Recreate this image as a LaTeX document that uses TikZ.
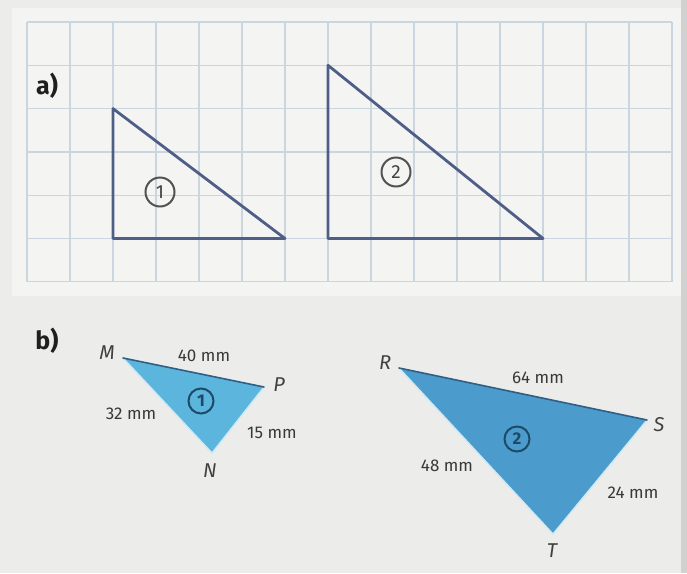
\documentclass[tikz,border=0pt]{standalone}
\usepackage{fontspec}
\setmainfont{Fira Sans}
\usetikzlibrary{positioning}
\definecolor{paper}{HTML}{ECECEA}
\definecolor{gridpaper}{HTML}{F4F4F3}
\definecolor{gridline}{HTML}{C9D6DF}
\definecolor{triline}{HTML}{4E5E86}
\definecolor{tribluea}{HTML}{5BB5DC}
\definecolor{triblueb}{HTML}{4B9CCC}
\definecolor{edgedark}{HTML}{2F5F86}
\definecolor{ringb}{HTML}{1E4A6A}

\begin{document}
\begin{tikzpicture}[
    x=1pt, y=-1pt,
    every node/.style={font=\fontsize{17}{19}\selectfont, text=black!78},
    gridl/.style={gridline, line width=1.3pt},
    side/.style={draw=triline, line width=2.8pt, line join=round},
    halo/.style={draw=white!70!tribluea, line width=1.4pt, line join=round},
    topedge/.style={edgedark, line width=1.6pt, line cap=round},
    part/.style={font=\fontsize{25}{27}\selectfont\bfseries, text=black!88},
    vname/.style={font=\fontsize{20}{22}\selectfont\itshape, text=black!75},
    ringa/.style={circle, draw=black!68, line width=2pt, minimum size=29pt,
      inner sep=0pt, font=\fontsize{19}{20}\selectfont, text=black!75},
    ringbb/.style={circle, draw=ringb, line width=2pt, minimum size=25pt,
      inner sep=0pt, font=\fontsize{17}{18}\selectfont\bfseries, text=ringb},
  ]
    % Page: 687 x 573, one unit = one pixel of the reference
    \fill[paper] (0,0) rectangle (687,573);
    \useasboundingbox (0,0) rectangle (687,573);
    \fill[black!18] (681,0) rectangle (687,573);

    % --- part a) on squared paper: 15 x 6 cells
    \def\cw{43}
    \def\ch{43.3}
    \fill[gridpaper] (12,8) rectangle (681,296);
    \foreach \i in {0,...,15} {
      \draw[gridl] ({27+\cw*\i}, 22) -- ({27+\cw*\i}, 282);
    }
    \foreach \j in {0,...,6} {
      \draw[gridl] (27, {22+\ch*\j}) -- (672, {22+\ch*\j});
    }

    \node[part] (pa) at (47,86) {a)};

    % triangle 1: legs 3 and 4 cells
    \coordinate (A1) at ({27+2*\cw}, {22+2*\ch});
    \coordinate (B1) at ({27+2*\cw}, {22+5*\ch});
    \coordinate (C1) at ({27+6*\cw}, {22+5*\ch});
    \draw[side] (A1) -- (B1) -- (C1) -- cycle;
    \node[ringa] (na1) at (160,192) {1};

    % triangle 2: legs 4 and 5 cells
    \coordinate (A2) at ({27+7*\cw}, {22+1*\ch});
    \coordinate (B2) at ({27+7*\cw}, {22+5*\ch});
    \coordinate (C2) at ({27+12*\cw}, {22+5*\ch});
    \draw[side] (A2) -- (B2) -- (C2) -- cycle;
    \node[ringa] (na2) at (396,172) {2};

    % --- part b)
    \node[part] (pb) at (47,341) {b)};

    % triangle MNP
    \coordinate (M) at (123,358);
    \coordinate (P) at (264,387);
    \coordinate (N) at (212,453);
    \fill[tribluea] (M) -- (P) -- (N) -- cycle;
    \draw[halo] (P) -- (N) -- (M);
    \draw[topedge] (M) -- (P);
    \node[vname] (lM) at (107,353) {M};
    \node[vname] (lP) at (279,385) {P};
    \node[vname] (lN) at (210,471) {N};
    \node (sMP) at (204,356) {40 mm};
    \node (sMN) at (131,414) {32 mm};
    \node (sPN) at (272,433) {15 mm};
    \node[ringbb] (nb1) at (201,401) {1};

    % triangle RST
    \coordinate (R) at (399,368);
    \coordinate (S) at (647,420);
    \coordinate (T) at (553,534);
    \fill[triblueb] (R) -- (S) -- (T) -- cycle;
    \draw[halo] (S) -- (T) -- (R);
    \draw[topedge] (R) -- (S);
    \node[vname] (lR) at (385,363) {R};
    \node[vname] (lS) at (659,425) {S};
    \node[vname] (lT) at (552,551) {T};
    \node (sRS) at (538,378) {64 mm};
    \node (sRT) at (447,466) {48 mm};
    \node (sST) at (633,493) {24 mm};
    \node[ringbb] (nb2) at (517,439) {2};
  \end{tikzpicture}
\end{document}
